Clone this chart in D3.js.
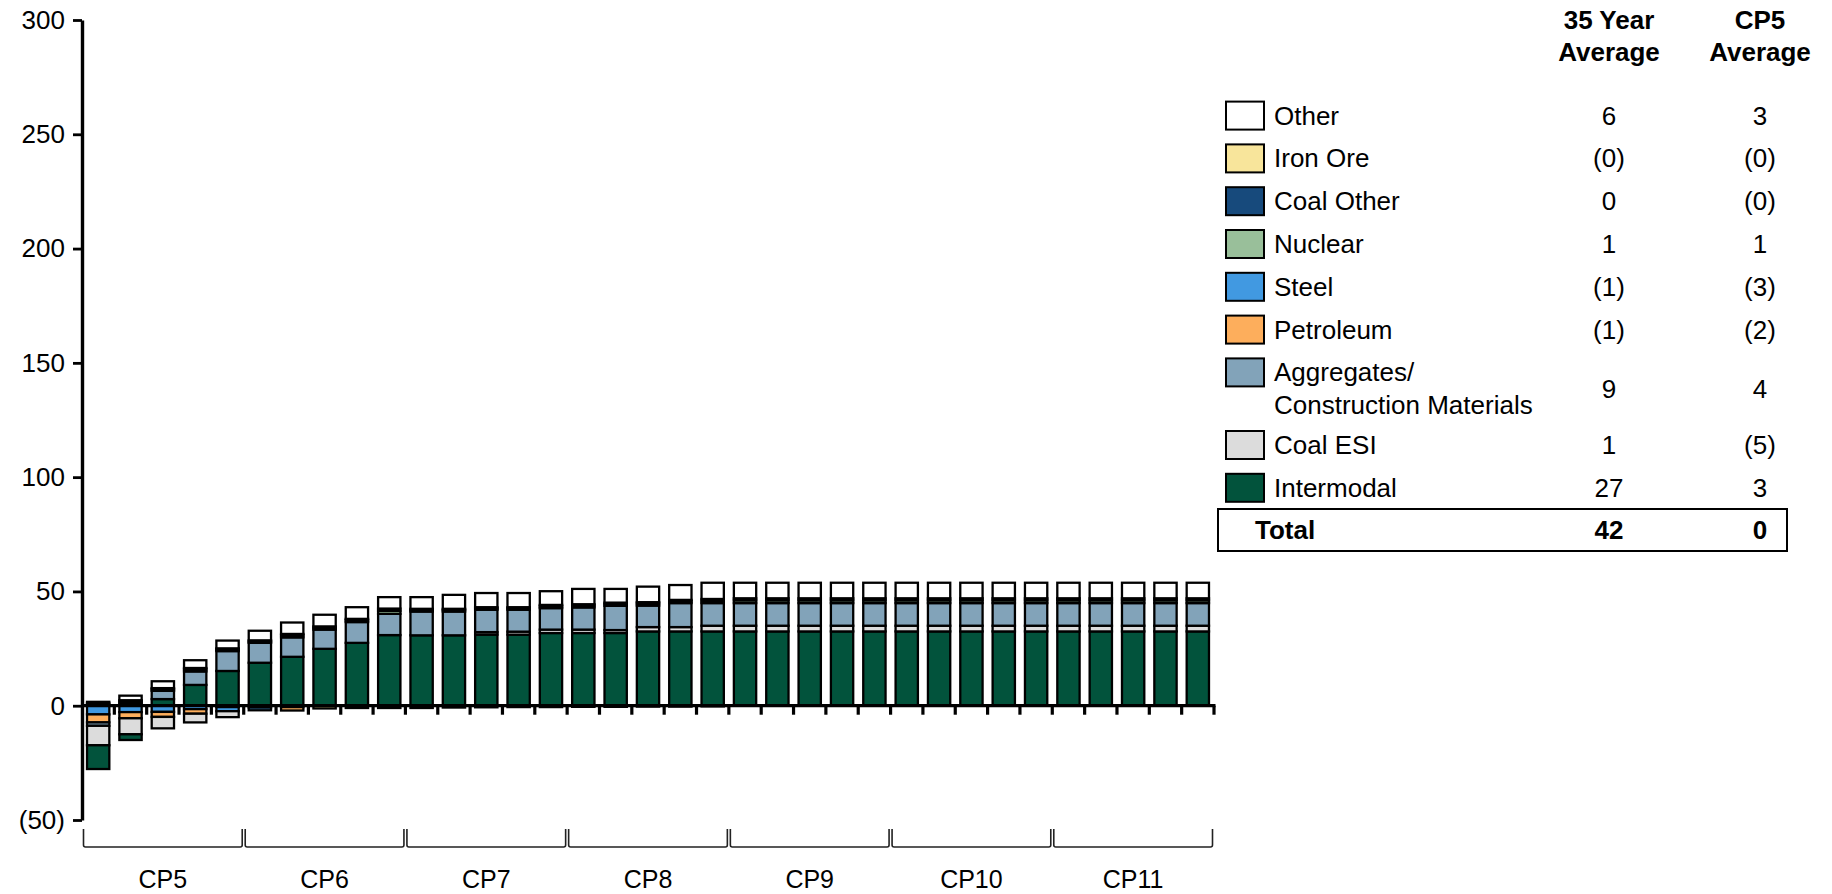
<!DOCTYPE html>
<html>
<head>
<meta charset="utf-8">
<script src="https://cdn.jsdelivr.net/npm/d3@7"></script>
<style>
  html, body { margin: 0; padding: 0; background: #fff; }
  svg { display: block; font-family: "Liberation Sans", Arial, sans-serif; }
</style>
</head>
<body>
<svg id="chart" width="1832" height="894"></svg>
<script>
// ---------------- DATA ----------------
const periods = ["CP5", "CP6", "CP7", "CP8", "CP9", "CP10", "CP11"];
const yearsPerPeriod = 5;

// stack order, bottom (positive) first
const seriesNames = ["Intermodal", "Coal ESI", "Aggregates/Construction Materials", "Petroleum", "Steel", "Nuclear", "Coal Other", "Iron Ore", "Other"];

const intermodal = [-10.4, -2.5, 2.9, 9.1, 15.2, 18.8, 21.4, 24.9, 27.5, 30.9, 30.8, 30.8, 31.1, 31.1, 31.8, 31.8, 31.8, 32.5, 32.5, 32.5, 32.5, 32.5, 32.5, 32.5, 32.5, 32.5, 32.5, 32.5, 32.5, 32.5, 32.5, 32.5, 32.5, 32.5, 32.5];
const coalESI    = [-8.5, -7.0, -5.0, -3.8, -2.6, 0, 0, 0, 0, 0, 0, 0, 1.1, 1.3, 1.5, 1.5, 1.3, 1.9, 1.9, 2.5, 2.5, 2.5, 2.5, 2.5, 2.5, 2.5, 2.5, 2.5, 2.5, 2.5, 2.5, 2.5, 2.5, 2.5, 2.5];
const aggregates = [-1.5, 1.0, 3.6, 5.9, 8.7, 8.7, 8.5, 8.4, 9.1, 9.3, 10.4, 10.4, 9.8, 9.6, 9.4, 9.7, 10.6, 9.4, 10.5, 9.9, 9.9, 9.9, 9.9, 9.9, 9.9, 9.9, 9.9, 9.9, 9.9, 9.9, 9.9, 9.9, 9.9, 9.9, 9.9];
const petroleum  = [-3.5, -2.7, -2.2, -2.0, 0, 0, -1.5, 0, 0, 0, 0, 0, 0, 0, 0, 0, 0, 0, 0, 0, 0, 0, 0, 0, 0, 0, 0, 0, 0, 0, 0, 0, 0, 0, 0];
const steel      = [-3.8, -2.8, -2.7, -1.5, -1.8, -1.2, 0, 0, 0, 0, 0, 0, 0, 0, 0, 0, 0, 0, 0, 0, 0, 0, 0, 0, 0, 0, 0, 0, 0, 0, 0, 0, 0, 0, 0];
const nuclear    = [1.0, 0.8, 0.7, 0.9, 0.7, 0.6, 0.9, 0.8, 0.8, 1.3, 0.7, 0.7, 0.6, 0.6, 0.8, 0.8, 0.8, 0.9, 0.8, 1.0, 1.2, 1.2, 1.2, 1.2, 1.2, 1.2, 1.2, 1.2, 1.2, 1.2, 1.2, 1.2, 1.2, 1.2, 1.2];
const coalOther  = [0.7, 0.6, 0.5, 0.6, 0.5, 0.5, 0.6, 0.6, 0.6, 1.0, 0.5, 0.5, 0.5, 0.5, 0.6, 0.6, 0.6, 0.6, 0.6, 0.8, 0.9, 0.9, 0.9, 0.9, 0.9, 0.9, 0.9, 0.9, 0.9, 0.9, 0.9, 0.9, 0.9, 0.9, 0.9];
const ironOre    = [0, 0, 0, 0, -0.6, -0.8, -0.6, -1.2, -1.0, -1.0, -1.0, -0.8, -0.7, -0.6, -0.6, -0.5, -0.5, -0.4, -0.4, -0.3, 0, 0, 0, 0, 0, 0, 0, 0, 0, 0, 0, 0, 0, 0, 0];
const other      = [0, 2.0, 3.0, 3.4, 3.4, 4.2, 5.0, 5.1, 5.1, 5.0, 5.1, 6.1, 6.2, 6.2, 6.0, 6.7, 6.0, 6.8, 6.5, 7.1, 6.8, 6.8, 6.8, 6.8, 6.8, 6.8, 6.8, 6.8, 6.8, 6.8, 6.8, 6.8, 6.8, 6.8, 6.8];

const yTicks = [-50, 0, 50, 100, 150, 200, 250, 300];

// legend table (top to bottom)
const legendNames  = ["Other", "Iron Ore", "Coal Other", "Nuclear", "Steel", "Petroleum", "Aggregates/Construction Materials", "Coal ESI", "Intermodal"];
const avg35Labels  = ["6", "(0)", "0", "1", "(1)", "(1)", "9", "1", "27"];
const avgCP5Labels = ["3", "(0)", "(0)", "1", "(3)", "(2)", "4", "(5)", "3"];
const totalLabels  = ["42", "0"];
const headerLabels = [["35 Year", "Average"], ["CP5", "Average"]];

// ---------------- STYLE ----------------
const colors = {
  "Other": "#FFFFFF",
  "Iron Ore": "#F8E59B",
  "Coal Other": "#174A7C",
  "Nuclear": "#99BF9A",
  "Steel": "#4199E1",
  "Petroleum": "#FDAE5C",
  "Aggregates/Construction Materials": "#82A3B9",
  "Coal ESI": "#DCDCDC",
  "Intermodal": "#02533C"
};
const seriesValues = [intermodal, coalESI, aggregates, petroleum, steel, nuclear, coalOther, ironOre, other];

// ---------------- BUILD ----------------
const barIds = [];
periods.forEach(p => { for (let i = 1; i <= yearsPerPeriod; i++) barIds.push(p + "-" + i); });

// custom stacking: positives upward in series order, negatives downward in reverse order
const segments = [];
barIds.forEach((id, j) => {
  let pos = 0;
  seriesNames.forEach((s, k) => {
    const v = seriesValues[k][j];
    if (v > 0) { segments.push({ id, s, y0: pos, y1: pos + v }); pos += v; }
  });
  let neg = 0;
  for (let k = seriesNames.length - 1; k >= 0; k--) {
    const v = seriesValues[k][j];
    if (v < 0) { segments.push({ id, s: seriesNames[k], y0: neg + v, y1: neg }); neg += v; }
  }
});

const svg = d3.select("#chart");
const left = 82, right = 1214;

const x = d3.scaleBand().domain(barIds).range([left, right]).paddingInner(0.31).paddingOuter(0.155);
const y = d3.scaleLinear().domain([-50, 300]).range([820, 20]);
const step = x.step();

// bars
svg.append("g").selectAll("rect").data(segments).join("rect")
  .attr("x", d => x(d.id))
  .attr("width", x.bandwidth())
  .attr("y", d => y(d.y1))
  .attr("height", d => Math.max(0, y(d.y0) - y(d.y1)))
  .attr("fill", d => colors[d.s])
  .attr("stroke", "#000")
  .attr("stroke-width", 2.3);

// zero axis with ticks at band boundaries
const zg = svg.append("g");
zg.append("line").attr("x1", left).attr("x2", right + 1.5).attr("y1", y(0)).attr("y2", y(0))
  .attr("stroke", "#000").attr("stroke-width", 3.2);
zg.selectAll("line.tk").data(barIds).join("line").attr("class", "tk")
  .attr("x1", d => x(d) + x.bandwidth() + (step - x.bandwidth()) / 2)
  .attr("x2", d => x(d) + x.bandwidth() + (step - x.bandwidth()) / 2)
  .attr("y1", y(0)).attr("y2", y(0) + 9)
  .attr("stroke", "#000").attr("stroke-width", 3.2);

// y axis
const yAxis = d3.axisLeft(y).tickValues(yTicks).tickSize(9).tickSizeOuter(0).tickPadding(8)
  .tickFormat(d => d < 0 ? "(" + (-d) + ")" : String(d));
const ya = svg.append("g").attr("transform", `translate(${left},0)`).call(yAxis);
ya.select(".domain").attr("stroke", "#000").attr("stroke-width", 3.4);
ya.selectAll(".tick line").attr("stroke", "#000").attr("stroke-width", 2.8);
ya.selectAll(".tick text").attr("font-size", 26).attr("fill", "#000")
  .attr("font-family", "'Liberation Sans', Arial, sans-serif");

// period brackets
const bg = svg.append("g");
periods.forEach((p, g) => {
  const x0 = x(barIds[g * yearsPerPeriod]) - (step - x.bandwidth()) / 2;
  const x1 = x0 + step * yearsPerPeriod;
  const top = 829, bot = 847;
  bg.append("path")
    .attr("d", `M${x0 + 1.5},${top} L${x0 + 1.5},${bot - 2} Q${x0 + 1.5},${bot} ${x0 + 3.5},${bot} L${x1 - 3.5},${bot} Q${x1 - 1.5},${bot} ${x1 - 1.5},${bot - 2} L${x1 - 1.5},${top}`)
    .attr("fill", "none").attr("stroke", "#222").attr("stroke-width", 1.6);
  bg.append("text").attr("x", (x0 + x1) / 2).attr("y", 888)
    .attr("text-anchor", "middle")
    .attr("font-size", 25).attr("fill", "#000").text(p);
});

// legend table
const lg = svg.append("g");
const col1 = 1609, col2 = 1760;
headerLabels.forEach((lines, i) => {
  lines.forEach((t, r) => {
    lg.append("text").attr("x", i === 0 ? col1 : col2).attr("y", 20 + r * 32)
      .attr("text-anchor", "middle").attr("dominant-baseline", "central")
      .attr("font-size", 26).attr("font-weight", "bold").attr("fill", "#000").text(t);
  });
});

const rowStep = 42.8;
let ry = 115.6;
legendNames.forEach((name, i) => {
  const twoLine = name.indexOf("/") >= 0;
  const sy = ry;
  lg.append("rect").attr("x", 1226).attr("y", sy - 14).attr("width", 38).attr("height", 28)
    .attr("fill", colors[name]).attr("stroke", "#000").attr("stroke-width", 2);
  let valY = sy;
  if (twoLine) {
    const parts = name.split("/");
    lg.append("text").attr("x", 1274).attr("y", sy).attr("dominant-baseline", "central")
      .attr("font-size", 26).attr("fill", "#000").text(parts[0] + "/");
    lg.append("text").attr("x", 1274).attr("y", sy + 33).attr("dominant-baseline", "central")
      .attr("font-size", 26).attr("fill", "#000").text(parts[1]);
    valY = sy + 16.5;
  } else {
    lg.append("text").attr("x", 1274).attr("y", sy).attr("dominant-baseline", "central")
      .attr("font-size", 26).attr("fill", "#000").text(name);
  }
  lg.append("text").attr("x", col1).attr("y", valY).attr("text-anchor", "middle").attr("dominant-baseline", "central")
    .attr("font-size", 26).attr("fill", "#000").text(avg35Labels[i]);
  lg.append("text").attr("x", col2).attr("y", valY).attr("text-anchor", "middle").attr("dominant-baseline", "central")
    .attr("font-size", 26).attr("fill", "#000").text(avgCP5Labels[i]);
  ry += twoLine ? 72.6 : rowStep;
});

// total row
lg.append("rect").attr("x", 1218).attr("y", 509).attr("width", 569).attr("height", 42)
  .attr("fill", "none").attr("stroke", "#000").attr("stroke-width", 2);
lg.append("text").attr("x", 1255).attr("y", 530).attr("dominant-baseline", "central")
  .attr("font-size", 26).attr("font-weight", "bold").attr("fill", "#000").text("Total");
lg.append("text").attr("x", col1).attr("y", 530).attr("text-anchor", "middle").attr("dominant-baseline", "central")
  .attr("font-size", 26).attr("font-weight", "bold").attr("fill", "#000").text(totalLabels[0]);
lg.append("text").attr("x", col2).attr("y", 530).attr("text-anchor", "middle").attr("dominant-baseline", "central")
  .attr("font-size", 26).attr("font-weight", "bold").attr("fill", "#000").text(totalLabels[1]);
</script>
</body>
</html>
